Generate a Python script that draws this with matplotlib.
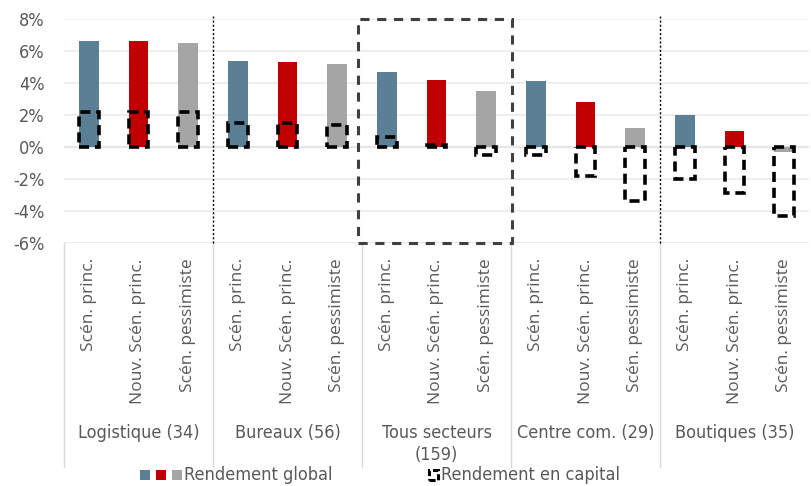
import matplotlib.pyplot as plt
import matplotlib.patches as mpatches
import matplotlib.transforms as mtransforms

# données (en %)
secteurs = ['Logistique (34)', 'Bureaux (56)', 'Tous secteurs\n(159)', 'Centre com. (29)', 'Boutiques (35)']
scenarios = ['Scén. princ.', 'Nouv. Scén. princ.', 'Scén. pessimiste']
rendement_global = [6.6, 6.6, 6.5,
                    5.4, 5.3, 5.2,
                    4.7, 4.2, 3.5,
                    4.1, 2.8, 1.2,
                    2.0, 1.0, -0.3]
rendement_capital = [2.2, 2.2, 2.2,
                     1.5, 1.5, 1.4,
                     0.6, 0.1, -0.5,
                     -0.5, -1.8, -3.4,
                     -2.0, -2.9, -4.3]
couleurs = ['#5B7F95', '#C00000', '#A5A5A5']
gris_texte = '#595959'
etroit = dict(family='DejaVu Sans', stretch='condensed')

fig = plt.figure(figsize=(8.11, 4.86), dpi=100)
ax = fig.add_axes([64 / 811, 1 - 243 / 486, (809 - 64) / 811, (243 - 19) / 486])

x = list(range(len(rendement_global)))
cols = [couleurs[i % 3] for i in x]
labels = [scenarios[i % 3] for i in x]

ax.bar(x, rendement_global, width=0.4, color=cols, zorder=2)
ax.bar(x, rendement_capital, width=0.4, facecolor='none', edgecolor='black',
       linewidth=2.6, linestyle=(0, (2.8, 1.6)), zorder=3)

ax.set_xlim(-0.5, len(x) - 0.5)
ax.set_ylim(-6, 8)
ax.set_yticks(range(-6, 9, 2))
ax.set_yticklabels([f'{v}%' for v in range(-6, 9, 2)], fontsize=13,
                   color=gris_texte, **etroit)
ax.set_xticks(x)
ax.set_xticklabels(labels, rotation=90, fontsize=12.5, color=gris_texte,
                   family=['Open Sans', 'DejaVu Sans'])
ax.tick_params(axis='both', length=0)
ax.tick_params(axis='x', pad=11)
ax.tick_params(axis='y', pad=14)
ax.grid(axis='y', color='#EBEBEB', linewidth=1.2, zorder=0)
ax.axhline(0, color='#D0D0D0', linewidth=1.5, zorder=1)
for s in ax.spines.values():
    s.set_visible(False)
ax.axhline(-6, color='#D9D9D9', linewidth=1.2, zorder=1)

# séparateurs pointillés et cadre "Tous secteurs"
trans = mtransforms.blended_transform_factory(ax.transData, ax.transAxes)
for xs in [2.5, 11.5]:
    ax.plot([xs, xs], [0, 1.015], transform=trans, color='black', linewidth=1,
            linestyle=(0, (1.5, 1.5)), clip_on=False, zorder=4)
ax.add_patch(mpatches.Rectangle((5.42, -6), 3.1, 14, facecolor='none',
                                edgecolor='#404040', linewidth=2.2,
                                linestyle=(0, (3, 2.5)), clip_on=False, zorder=4))

# axe des catégories à deux niveaux
for xs in [-0.5, 2.5, 5.5, 8.5, 11.5]:
    ax.plot([xs, xs], [0, -1.0], transform=trans, color='#D9D9D9', linewidth=1,
            clip_on=False)
for i, nom in enumerate(secteurs):
    ax.text(3 * i + 1, -0.81, nom, transform=trans, ha='center', va='top',
            fontsize=13, color=gris_texte, linespacing=1.25, **etroit)

# légende (dessinée à la main, en pixels de la figure)
W, H = 811, 486
yc = 1 - 475 / H
for x0, c in zip([140, 156, 172], couleurs):
    fig.patches.append(mpatches.Rectangle((x0 / W, yc - 5 / H), 10 / W, 10 / H,
                                          facecolor=c, transform=fig.transFigure))
fig.text(184 / W, yc, 'Rendement global', fontsize=13, color=gris_texte,
         va='center', ha='left', **etroit)
fig.patches.append(mpatches.Rectangle((429 / W, yc - 5 / H), 9 / W, 10 / H,
                                      facecolor='none', edgecolor='black',
                                      linewidth=2.2, linestyle=(0, (2, 1)),
                                      transform=fig.transFigure))
fig.text(441 / W, yc, 'Rendement en capital', fontsize=13, color=gris_texte,
         va='center', ha='left', **etroit)

fig.savefig('out.png', dpi=100)
